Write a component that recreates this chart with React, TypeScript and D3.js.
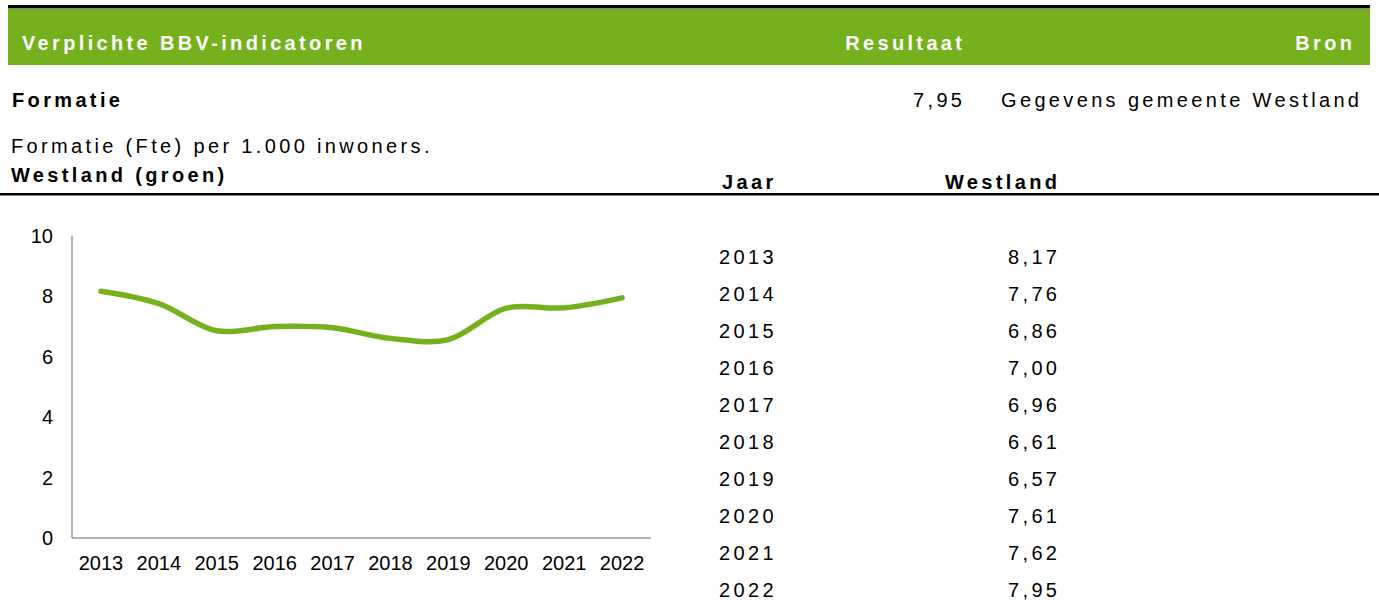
import React from "react";
import * as d3 from "d3";

const years: string[] = ["2013", "2014", "2015", "2016", "2017", "2018", "2019", "2020", "2021", "2022"];
const westland: number[] = [8.17, 7.76, 6.86, 7.0, 6.96, 6.61, 6.57, 7.61, 7.62, 7.95];
const yTicks: number[] = [0, 2, 4, 6, 8, 10];
const resultaat = 7.95;

const GREEN = "#75b11d";
const FONT = "'Liberation Sans', Arial, Helvetica, sans-serif";
const FS = 20;
const LS = 3.35;

const fmt = (v: number) => d3.format(".2f")(v).replace(".", ",");

export default function App() {
  const W = 1379;
  const H = 601;
  const x = d3.scaleBand<string>().domain(years).range([72, 651]);
  const y = d3.scaleLinear().domain([0, 10]).range([538, 236]);
  const line = d3
    .line<number>()
    .x((_, i) => (x(years[i]) as number) + x.bandwidth() / 2)
    .y((d) => y(d))
    .curve(d3.curveCatmullRom.alpha(0.5));

  const rowY = d3.scalePoint<string>().domain(years).range([264, 597]);

  const spaced = { fontFamily: FONT, fontSize: FS, letterSpacing: LS } as const;

  return (
    <svg
      width={W}
      height={H}
      style={{ position: "absolute", left: 0, top: 0, background: "#fff" }}
      xmlns="http://www.w3.org/2000/svg"
    >
      {/* top black rule and green header band */}
      <rect x={8} y={5} width={1362} height={3.5} fill="#000" />
      <rect x={8} y={9} width={1362} height={56} fill={GREEN} />
      <text x={22} y={50} fill="#fff" fontWeight="bold" {...spaced}>
        Verplichte BBV-indicatoren
      </text>
      <text x={962 + LS} y={50} fill="#fff" fontWeight="bold" textAnchor="end" {...spaced}>
        Resultaat
      </text>
      <text x={1352 + LS} y={50} fill="#fff" fontWeight="bold" textAnchor="end" {...spaced}>
        Bron
      </text>

      {/* indicator row */}
      <text x={12} y={107} fill="#000" fontWeight="bold" {...spaced}>
        Formatie
      </text>
      <text x={962 + LS} y={107} fill="#000" textAnchor="end" {...spaced}>
        {fmt(resultaat)}
      </text>
      <text x={1001} y={107} fill="#000" {...spaced}>
        Gegevens gemeente Westland
      </text>

      <text x={11} y={153} fill="#000" {...spaced}>
        Formatie (Fte) per 1.000 inwoners.
      </text>
      <text x={11} y={182} fill="#000" fontWeight="bold" {...spaced}>
        Westland (groen)
      </text>
      <text x={722} y={189} fill="#000" fontWeight="bold" {...spaced}>
        Jaar
      </text>
      <text x={1057 + LS} y={189} fill="#000" fontWeight="bold" textAnchor="end" {...spaced}>
        Westland
      </text>
      <rect x={0} y={193} width={W} height={2.5} fill="#000" />

      {/* chart axes */}
      <line x1={72} x2={72} y1={y(10)} y2={y(0)} stroke="#999" strokeWidth={1.5} />
      <line x1={72} x2={651} y1={y(0)} y2={y(0)} stroke="#999" strokeWidth={1.5} />
      {yTicks.map((t) => (
        <text
          key={t}
          x={53}
          y={y(t)}
          dy="0.35em"
          textAnchor="end"
          fontFamily={FONT}
          fontSize={FS}
          fill="#000"
        >
          {t}
        </text>
      ))}
      {years.map((yr) => (
        <text
          key={yr}
          x={(x(yr) as number) + x.bandwidth() / 2}
          y={570}
          textAnchor="middle"
          fontFamily={FONT}
          fontSize={FS}
          fill="#000"
        >
          {yr}
        </text>
      ))}
      <path
        d={line(westland) ?? ""}
        fill="none"
        stroke={GREEN}
        strokeWidth={5.5}
        strokeLinecap="round"
        strokeLinejoin="round"
      />

      {/* table */}
      {years.map((yr, i) => (
        <g key={yr}>
          <text x={719} y={rowY(yr)} fill="#000" {...spaced}>
            {yr}
          </text>
          <text x={1057 + LS} y={rowY(yr)} fill="#000" textAnchor="end" {...spaced}>
            {fmt(westland[i])}
          </text>
        </g>
      ))}
    </svg>
  );
}
